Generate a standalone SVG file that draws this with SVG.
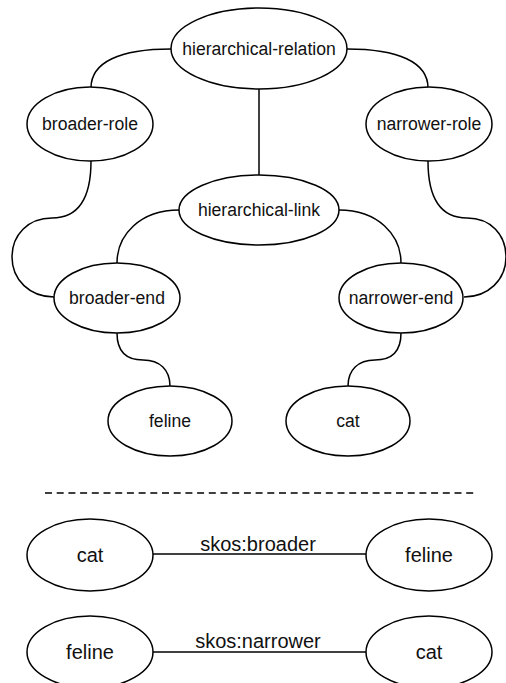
<svg xmlns="http://www.w3.org/2000/svg" width="506" height="683" viewBox="0 0 506 683">
<style>
.n ellipse{fill:#fff;stroke:#000;stroke-width:1.5}
.n text{font-family:"Liberation Sans",Arial,sans-serif;font-size:17.6px;fill:#111;text-anchor:middle}
.b text{font-size:20px}
.e path,.e line{fill:none;stroke:#000;stroke-width:1.5}
.lbl{font-family:"Liberation Sans",Arial,sans-serif;font-size:20px;fill:#111;text-anchor:middle}
</style>
<rect width="506" height="683" fill="#fff"/>
<g class="e" id="connectors">
<path d="M171,49 C120,49 91,62 91,88"/>
<path d="M347,49 C398,49 428,62 428,88"/>
<line x1="259" y1="89" x2="259" y2="175"/>
<path d="M91,161 C91,200 78,218 52,218 C28,218 12,235 12,257 C12,280 30,297 54,297"/>
<path d="M428,161 C428,200 441,218 467,218 C491,218 506,235 506,257 C506,280 488,297 464,297"/>
<path d="M179,210 C140,210 117,235 117,263"/>
<path d="M339,210 C378,210 401,235 401,263"/>
<path d="M117,333 C117,350 125,360 143,360 C160,360 170,370 170,386"/>
<path d="M401,333 C401,350 393,360 375,360 C358,360 348,370 348,386"/>
<line x1="45" y1="493" x2="477" y2="493" stroke-dasharray="7,4.7"/>
<line x1="153" y1="554" x2="366" y2="554"/>
<line x1="153" y1="652" x2="366" y2="652"/>
</g>
<g class="n" id="hierarchical-relation"><ellipse cx="259" cy="48.5" rx="88" ry="40.5"/><text x="259" y="55">hierarchical-relation</text></g>
<g class="n" id="broader-role"><ellipse cx="90" cy="124" rx="63" ry="37"/><text x="90" y="130">broader-role</text></g>
<g class="n" id="narrower-role"><ellipse cx="429" cy="124" rx="63" ry="37"/><text x="429" y="130">narrower-role</text></g>
<g class="n" id="hierarchical-link"><ellipse cx="259" cy="210" rx="80" ry="35"/><text x="259" y="216">hierarchical-link</text></g>
<g class="n" id="broader-end"><ellipse cx="117" cy="298" rx="63" ry="35"/><text x="117" y="304">broader-end</text></g>
<g class="n" id="narrower-end"><ellipse cx="401" cy="298" rx="62" ry="35"/><text x="401" y="304">narrower-end</text></g>
<g class="n" id="feline-top"><ellipse cx="170" cy="421" rx="62" ry="35"/><text x="170" y="427">feline</text></g>
<g class="n" id="cat-top"><ellipse cx="348" cy="421" rx="62" ry="35"/><text x="348" y="427">cat</text></g>
<g class="n b" id="cat-1"><ellipse cx="90" cy="555" rx="63" ry="36"/><text x="90" y="562">cat</text></g>
<g class="n b" id="feline-1"><ellipse cx="429" cy="555" rx="63" ry="36"/><text x="429" y="562">feline</text></g>
<g class="n b" id="feline-2"><ellipse cx="90" cy="652" rx="63" ry="36"/><text x="90" y="659">feline</text></g>
<g class="n b" id="cat-2"><ellipse cx="429" cy="652" rx="63" ry="36"/><text x="429" y="659">cat</text></g>
<g id="labels">
<text class="lbl" x="258" y="551">skos:broader</text>
<text class="lbl" x="258" y="648">skos:narrower</text>
</g>
</svg>
